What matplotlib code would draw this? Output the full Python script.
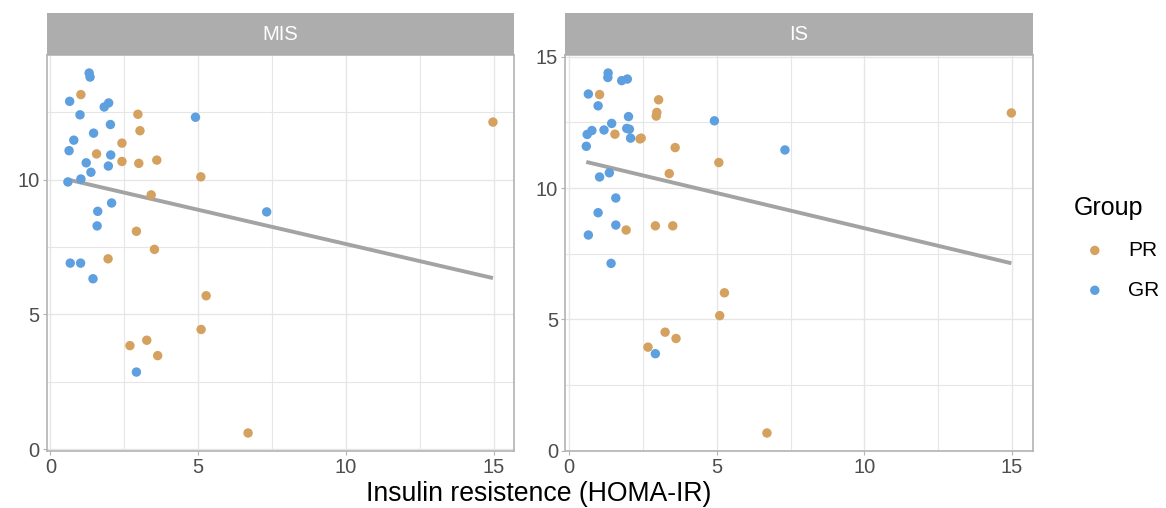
import numpy as np
import matplotlib
matplotlib.use("Agg")
from matplotlib import pyplot as plt

plt.rcParams['font.family'] = ['Liberation Sans', 'DejaVu Sans']

panels = ["MIS", "IS"]
groups = ["PR", "GR"]
colors = {"PR": "#D4A15E", "GR": "#5E9FE0"}

# MIS panel
mis_pr_x = [1.03, 2.96, 3.03, 2.42, 1.56, 2.42, 2.99, 3.60, 5.09, 3.41,
            14.98, 2.91, 3.52, 1.95, 5.27, 5.10, 2.69, 3.26, 3.63, 6.69]
mis_pr_y = [13.15, 12.42, 11.81, 11.35, 10.95, 10.67, 10.60, 10.72, 10.10, 9.43,
            12.13, 8.08, 7.41, 7.06, 5.69, 4.44, 3.84, 4.04, 3.47, 0.60]
mis_gr_x = [1.31, 1.34, 0.65, 1.00, 1.82, 1.97, 2.03, 4.91, 1.46, 0.79,
            0.63, 1.21, 2.04, 1.96, 1.37, 1.03, 0.59, 2.07, 1.60, 1.58,
            7.32, 0.67, 1.02, 1.44, 2.91]
mis_gr_y = [13.95, 13.80, 12.90, 12.40, 12.69, 12.84, 12.04, 12.31, 11.72, 11.46,
            11.07, 10.62, 10.91, 10.50, 10.27, 10.02, 9.91, 9.13, 8.82, 8.28,
            8.80, 6.90, 6.90, 6.32, 2.86]

# IS panel
is_pr_x = [1.03, 3.03, 2.97, 2.95, 14.98, 1.55, 2.40, 2.44, 3.59, 5.07,
           3.39, 2.92, 3.51, 1.93, 5.26, 5.10, 3.25, 3.62, 2.67, 6.70]
is_pr_y = [13.56, 13.36, 12.88, 12.74, 12.86, 12.05, 11.87, 11.90, 11.54, 10.97,
           10.55, 8.56, 8.56, 8.40, 6.01, 5.14, 4.51, 4.27, 3.94, 0.67]
is_gr_x = [1.32, 1.31, 1.78, 1.97, 0.65, 0.98, 2.01, 4.92, 1.44, 0.77,
           0.61, 1.18, 1.95, 2.04, 2.08, 0.58, 7.31, 1.36, 1.03, 1.58,
           0.98, 1.58, 0.65, 1.42, 2.92]
is_gr_y = [14.38, 14.21, 14.09, 14.15, 13.58, 13.13, 12.72, 12.56, 12.46, 12.19,
           12.04, 12.21, 12.27, 12.24, 11.90, 11.59, 11.45, 10.58, 10.42, 9.62,
           9.06, 8.59, 8.21, 7.13, 3.69]

data = {
    "MIS": {"PR": (mis_pr_x, mis_pr_y), "GR": (mis_gr_x, mis_gr_y)},
    "IS": {"PR": (is_pr_x, is_pr_y), "GR": (is_gr_x, is_gr_y)},
}

x_ticks = [0, 5, 10, 15]
y_ticks = [0, 5, 10, 15]
minor_ticks = [2.5, 7.5, 12.5]

fig = plt.figure(figsize=(11.66, 5.08), dpi=100)
ax_left = [0.040, 0.4846]
ax_width = 0.401
ax_bottom = 0.1122
ax_height = 0.7795
strip_h = 42 / 508

border = "#B3B3B3"
grid_col = "#E6E6E6"

for i, name in enumerate(panels):
    ax = fig.add_axes([ax_left[i], ax_bottom, ax_width, ax_height])
    all_x = np.array(data[name]["PR"][0] + data[name]["GR"][0])
    all_y = np.array(data[name]["PR"][1] + data[name]["GR"][1])

    ax.set_xticks(x_ticks)
    ax.set_xticks(minor_ticks, minor=True)
    ax.set_yticks(y_ticks)
    ax.set_yticks(minor_ticks, minor=True)

    # ggplot-style 5% expansion, free scales
    xr = all_x.max() - all_x.min()
    yr = all_y.max() - all_y.min()
    ax.set_xlim(all_x.min() - 0.05 * xr, all_x.max() + 0.05 * xr)
    ax.set_ylim(all_y.min() - 0.05 * yr, all_y.max() + 0.05 * yr)

    ax.grid(True, which="major", color=grid_col, linewidth=1.0, zorder=0)
    ax.grid(True, which="minor", color=grid_col, linewidth=0.8, zorder=0)
    ax.set_axisbelow(True)
    ax.tick_params(which="minor", length=0)
    ax.tick_params(which="major", length=3, color=border, labelsize=14.5,
                   labelcolor="#4D4D4D", pad=2)
    for s in ax.spines.values():
        s.set_color(border)
        s.set_linewidth(1.2)

    # regression line on all points
    slope, icpt = np.polyfit(all_x, all_y, 1)
    lx = np.array([all_x.min(), all_x.max()])
    ax.plot(lx, slope * lx + icpt, color="#A3A3A3", linewidth=2.8, zorder=2,
            solid_capstyle="butt")

    for g in groups:
        xs, ys = data[name][g]
        ax.scatter(xs, ys, s=46, color=colors[g], edgecolors="none", zorder=3,
                   label=g)

    # facet strip
    sax = fig.add_axes([ax_left[i], ax_bottom + ax_height, ax_width, strip_h])
    sax.set_facecolor("#ADADAD")
    sax.set_xticks([])
    sax.set_yticks([])
    for s in sax.spines.values():
        s.set_visible(False)
    sax.text(0.5, 0.5, name, color="white", fontsize=14.5, ha="center",
             va="center", transform=sax.transAxes)

    if i == 1:
        handles, labels = ax.get_legend_handles_labels()

fig.text(0.462, 0.028, "Insulin resistence (HOMA-IR)", ha="center",
         va="center", fontsize=19.2)

leg = fig.legend(handles, labels, title="Group", loc="center left",
                 bbox_to_anchor=(0.905, 0.512), frameon=False, fontsize=15,
                 title_fontsize=18, handletextpad=0.6, labelspacing=1.0,
                 markerscale=1.0)
leg._legend_box.align = "left"

fig.savefig("out.png", dpi=100)
